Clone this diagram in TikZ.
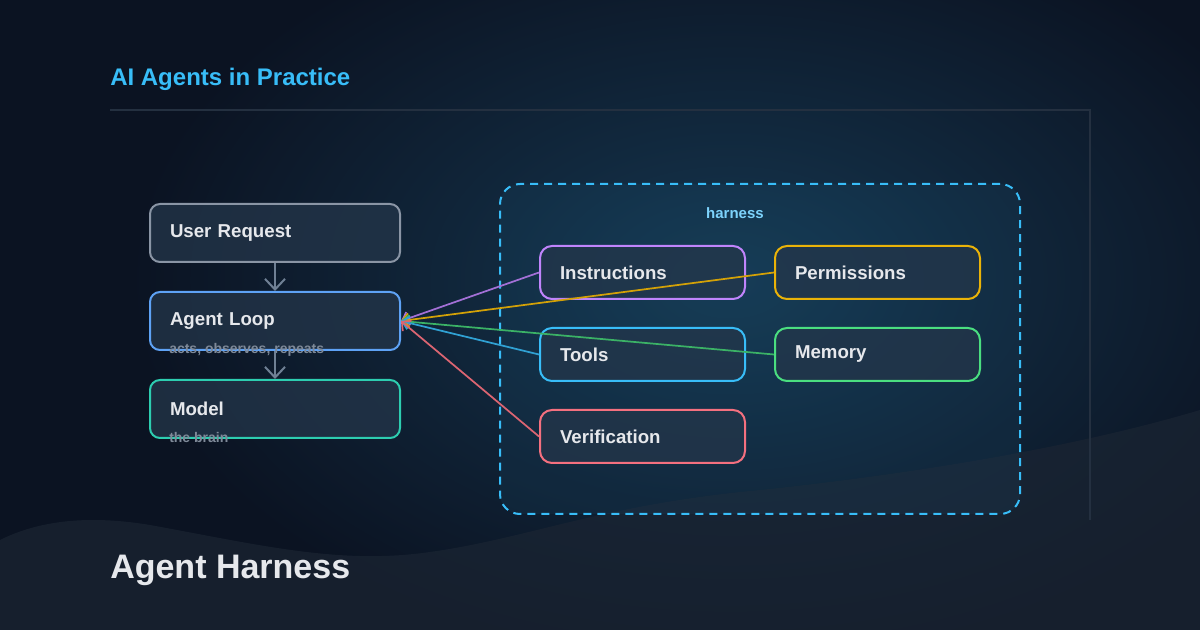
\documentclass[tikz,border=0pt]{standalone}
\usepackage{fontspec}
\setmainfont{Liberation Sans}
\usetikzlibrary{arrows.meta,positioning,calc}
\definecolor{ink}{HTML}{0B1322}
\definecolor{glow}{HTML}{15364F}
\definecolor{wave}{HTML}{1B2533}
\definecolor{rim}{HTML}{243040}
\definecolor{sky}{HTML}{38BDF8}
\definecolor{skylt}{HTML}{7DD3FC}
\definecolor{cardfill}{HTML}{24364A}
\definecolor{chalk}{HTML}{E6E8EC}
\definecolor{mute}{HTML}{7F8A99}
\definecolor{slate}{HTML}{8A95A5}
\definecolor{ash}{HTML}{6F8094}
\definecolor{loopblue}{HTML}{5EA2F5}
\definecolor{mint}{HTML}{2DCDB0}
\definecolor{lilac}{HTML}{C084FC}
\definecolor{gold}{HTML}{EAB308}
\definecolor{leaf}{HTML}{4ADE80}
\definecolor{rose}{HTML}{F4707F}
\tikzset{lbox/.style={fill=cardfill,fill opacity=.75,text opacity=1,rounded corners=7.5pt,line width=1.5pt,minimum height=43.5pt,text width=157.5pt,inner xsep=15pt,align=left,font=\bfseries\fontsize{14}{16}\selectfont,text=chalk},hbox/.style={lbox,rounded corners=9pt,minimum height=39.75pt,text width=123.75pt},note/.style={inner sep=0pt,font=\bfseries\fontsize{10.5}{12}\selectfont,text=mute},arr/.style={-{Straight Barb[length=8pt,width=15pt]},line width=1.5pt,draw=ash},link/.style={-{Straight Barb[length=5pt,width=10pt]},line width=1.3pt}}

\begin{document}
\begin{tikzpicture}[x=0.75pt,y=-0.75pt]
\useasboundingbox (0,0) rectangle (1200,630);
\fill[ink] (0,0) rectangle (1200,630);
\shade[inner color=glow,outer color=ink] (730,280) ellipse (450pt and 285pt);
\fill[wave,fill opacity=.7] (0,540) .. controls (40,520) and (90,515) .. (150,525) .. controls (260,545) and (340,565) .. (430,552) .. controls (530,538) and (600,505) .. (760,490) .. controls (950,470) and (1100,440) .. (1200,410) -- (1200,630) -- (0,630) -- cycle;
\draw[rim,line width=1.5pt] (110,110) -- (1090,110) -- (1090,520);
\node[anchor=west,inner sep=0pt,text=sky,font=\bfseries\fontsize{18}{21}\selectfont] (title) at (110,79) {AI Agents in Practice};
\node[anchor=west,inner sep=0pt,text=chalk,font=\bfseries\fontsize{25.5}{30}\selectfont] (foot) at (110,570) {Agent Harness};
\node[draw=sky,dashed,dash pattern=on 6pt off 4.5pt,line width=1.5pt,fill=sky,fill opacity=.05,rounded corners=15pt,minimum width=390pt,minimum height=247.5pt] (h) at (760,349) {};
\node[inner sep=0pt,text=skylt,font=\bfseries\fontsize{11.25}{13}\selectfont] (hl) at (735,213) {harness};
\node[lbox,draw=slate] (a) at (275,233) {User Request};
\node[lbox,draw=loopblue,below=21pt of a] (b) {Agent Loop};
\node[lbox,draw=mint,below=21pt of b] (c) {Model};
\node[note,anchor=west] (bn) at ([xshift=15pt,yshift=1pt]b.south west) {acts, observes, repeats};
\node[note,anchor=west] (cn) at ([xshift=15pt,yshift=1pt]c.south west) {the brain};
\node[hbox,draw=lilac] (ins) at (642.5,272.5) {Instructions};
\node[hbox,draw=sky,below=20.25pt of ins] (tl) {Tools};
\node[hbox,draw=rose,below=20.25pt of tl] (ver) {Verification};
\node[hbox,draw=gold,right=21pt of ins] (perm) {Permissions};
\node[hbox,draw=leaf,below=20.25pt of perm] (mem) {Memory};
\draw[arr] (a)--(b);\draw[arr] (b)--(c);
\draw[link,draw=lilac!85!black] (ins.west)--(b.east);\draw[link,draw=gold!90!black] (perm.west)--(b.east);
\draw[link,draw=leaf!80!black] (mem.west)--(b.east);\draw[link,draw=sky!85!black] (tl.west)--(b.east);
\draw[link,draw=rose!90!black] (ver.west)--(b.east);
\end{tikzpicture}
\end{document}
